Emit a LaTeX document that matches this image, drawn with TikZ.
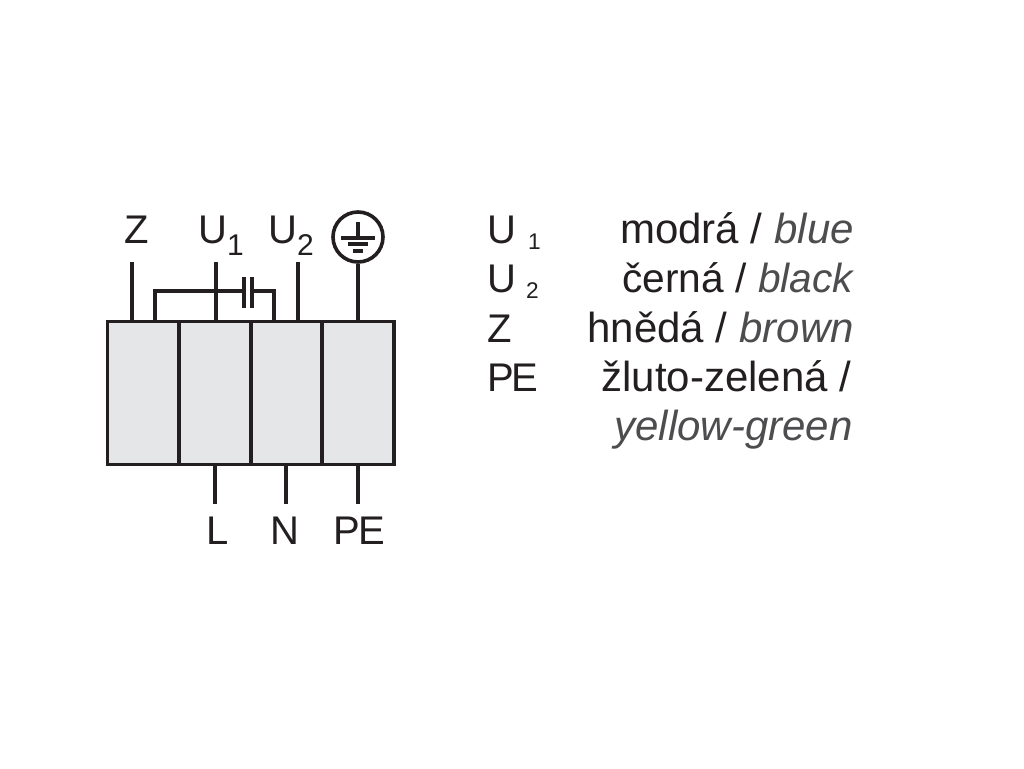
\documentclass[tikz,border=0pt]{standalone}
\usepackage{fontspec}
\setmainfont{Liberation Sans}
\definecolor{ink}{HTML}{231F20}
\definecolor{inkgray}{HTML}{4D4D4F}
\definecolor{panelgray}{HTML}{E5E6E8}
\newcommand{\termfont}{\fontsize{30}{36}\selectfont}
\newcommand{\legfont}{\fontsize{31.5}{38}\selectfont}
\newcommand{\termsub}[1]{\raisebox{-9pt}{\fontsize{22.5}{26}\selectfont #1}}
\newcommand{\legsub}[1]{\raisebox{-5pt}{\fontsize{17}{20}\selectfont #1}}
\tikzset{
  wire/.style={draw=ink,line width=2.7pt},
  panel/.style={draw=ink,fill=panelgray,line width=2.7pt,minimum width=53.6pt,minimum height=107.2pt,inner sep=0pt,outer sep=0pt},
  term/.style={anchor=base,inner sep=0pt,text=ink,font=\termfont},
  legkey/.style={anchor=base west,inner sep=0pt,text=ink,font=\termfont},
  legval/.style={anchor=base east,inner sep=0pt,text=ink,font=\legfont}
}
\begin{document}
\begin{tikzpicture}[x=.75pt,y=-.75pt]
\useasboundingbox (0,0) rectangle (1024,768);
\fill[white] (0,0) rectangle (1024,768);
% terminal block
\node[panel] (boxa) at (143.3,393) {};
\node[panel] (boxb) at (215,393) {};
\node[panel] (boxc) at (286.5,393) {};
\node[panel] (boxd) at (358,393) {};
% upper wires
\coordinate (zend) at (132,262);
\coordinate (uaend) at (216,262);
\coordinate (ubend) at (298,262);
\draw[wire] (zend)--(zend|-boxa.north);
\draw[wire] (uaend)--(uaend|-boxb.north);
\draw[wire] (ubend)--(ubend|-boxc.north);
% capacitor
\coordinate (capl) at (155,291);
\coordinate (capr) at (274,291);
\coordinate (platel) at (244,291);
\coordinate (plater) at (252,291);
\draw[wire] (capl|-boxa.north)--(capl)--(platel);
\draw[wire] (plater)--(capr)--(capr|-boxc.north);
\draw[wire] (244,277)--(244,308);
\draw[wire] (252,277)--(252,308);
% earth symbol
\node[draw=ink,line width=2.7pt,circle,minimum size=37.5pt,inner sep=0pt] (earth) at (358,237) {};
\draw[wire] (earth.south)--(earth|-boxd.north);
\draw[wire] (358,222)--(358,238);
\draw[wire] (341,238)--(375,238);
\draw[wire] (348,244)--(368,244);
\draw[wire] (353,251)--(363,251);
% lower wires
\coordinate (lend) at (215,504);
\coordinate (nend) at (286,504);
\coordinate (peend) at (358,504);
\draw[wire] (lend)--(lend|-boxb.south);
\draw[wire] (nend)--(nend|-boxc.south);
\draw[wire] (peend)--(peend|-boxd.south);
% terminal labels
\node[term] (zlabel) at (137,243) {Z};
\node[term] (ualabel) at (221,243) {U\termsub{1}};
\node[term] (ublabel) at (291,243) {U\termsub{2}};
\node[term] (llabel) at (217.5,544) {L};
\node[term] (nlabel) at (285,544) {N};
\node[term] (pelabel) at (359,544) {P\kern-1.5pt E};
% legend
\node[legkey] (keya) at (487,243) {U\hspace{9pt}\legsub{1}};
\node[legkey] (keyb) at (487,292) {U\hspace{7.5pt}\legsub{2}};
\node[legkey] (keyc) at (487,342) {Z};
\node[legkey] (keyd) at (487,391) {P\kern-1.5pt E};
\node[legval] (vala) at (854,243) {modrá / \textcolor{inkgray}{\textit{blue}}};
\node[legval,font=\fontsize{30.5}{38}\selectfont] (valb) at (855,292) {černá / \textcolor{inkgray}{\textit{black}}};
\node[legval] (valc) at (854,342) {hnědá / \textcolor{inkgray}{\textit{brown}}};
\node[legval] (vald) at (851.5,391) {žluto-zelená /};
\node[legval] (vale) at (853,440) {\textcolor{inkgray}{\textit{yellow-green}}};
\end{tikzpicture}
\end{document}
